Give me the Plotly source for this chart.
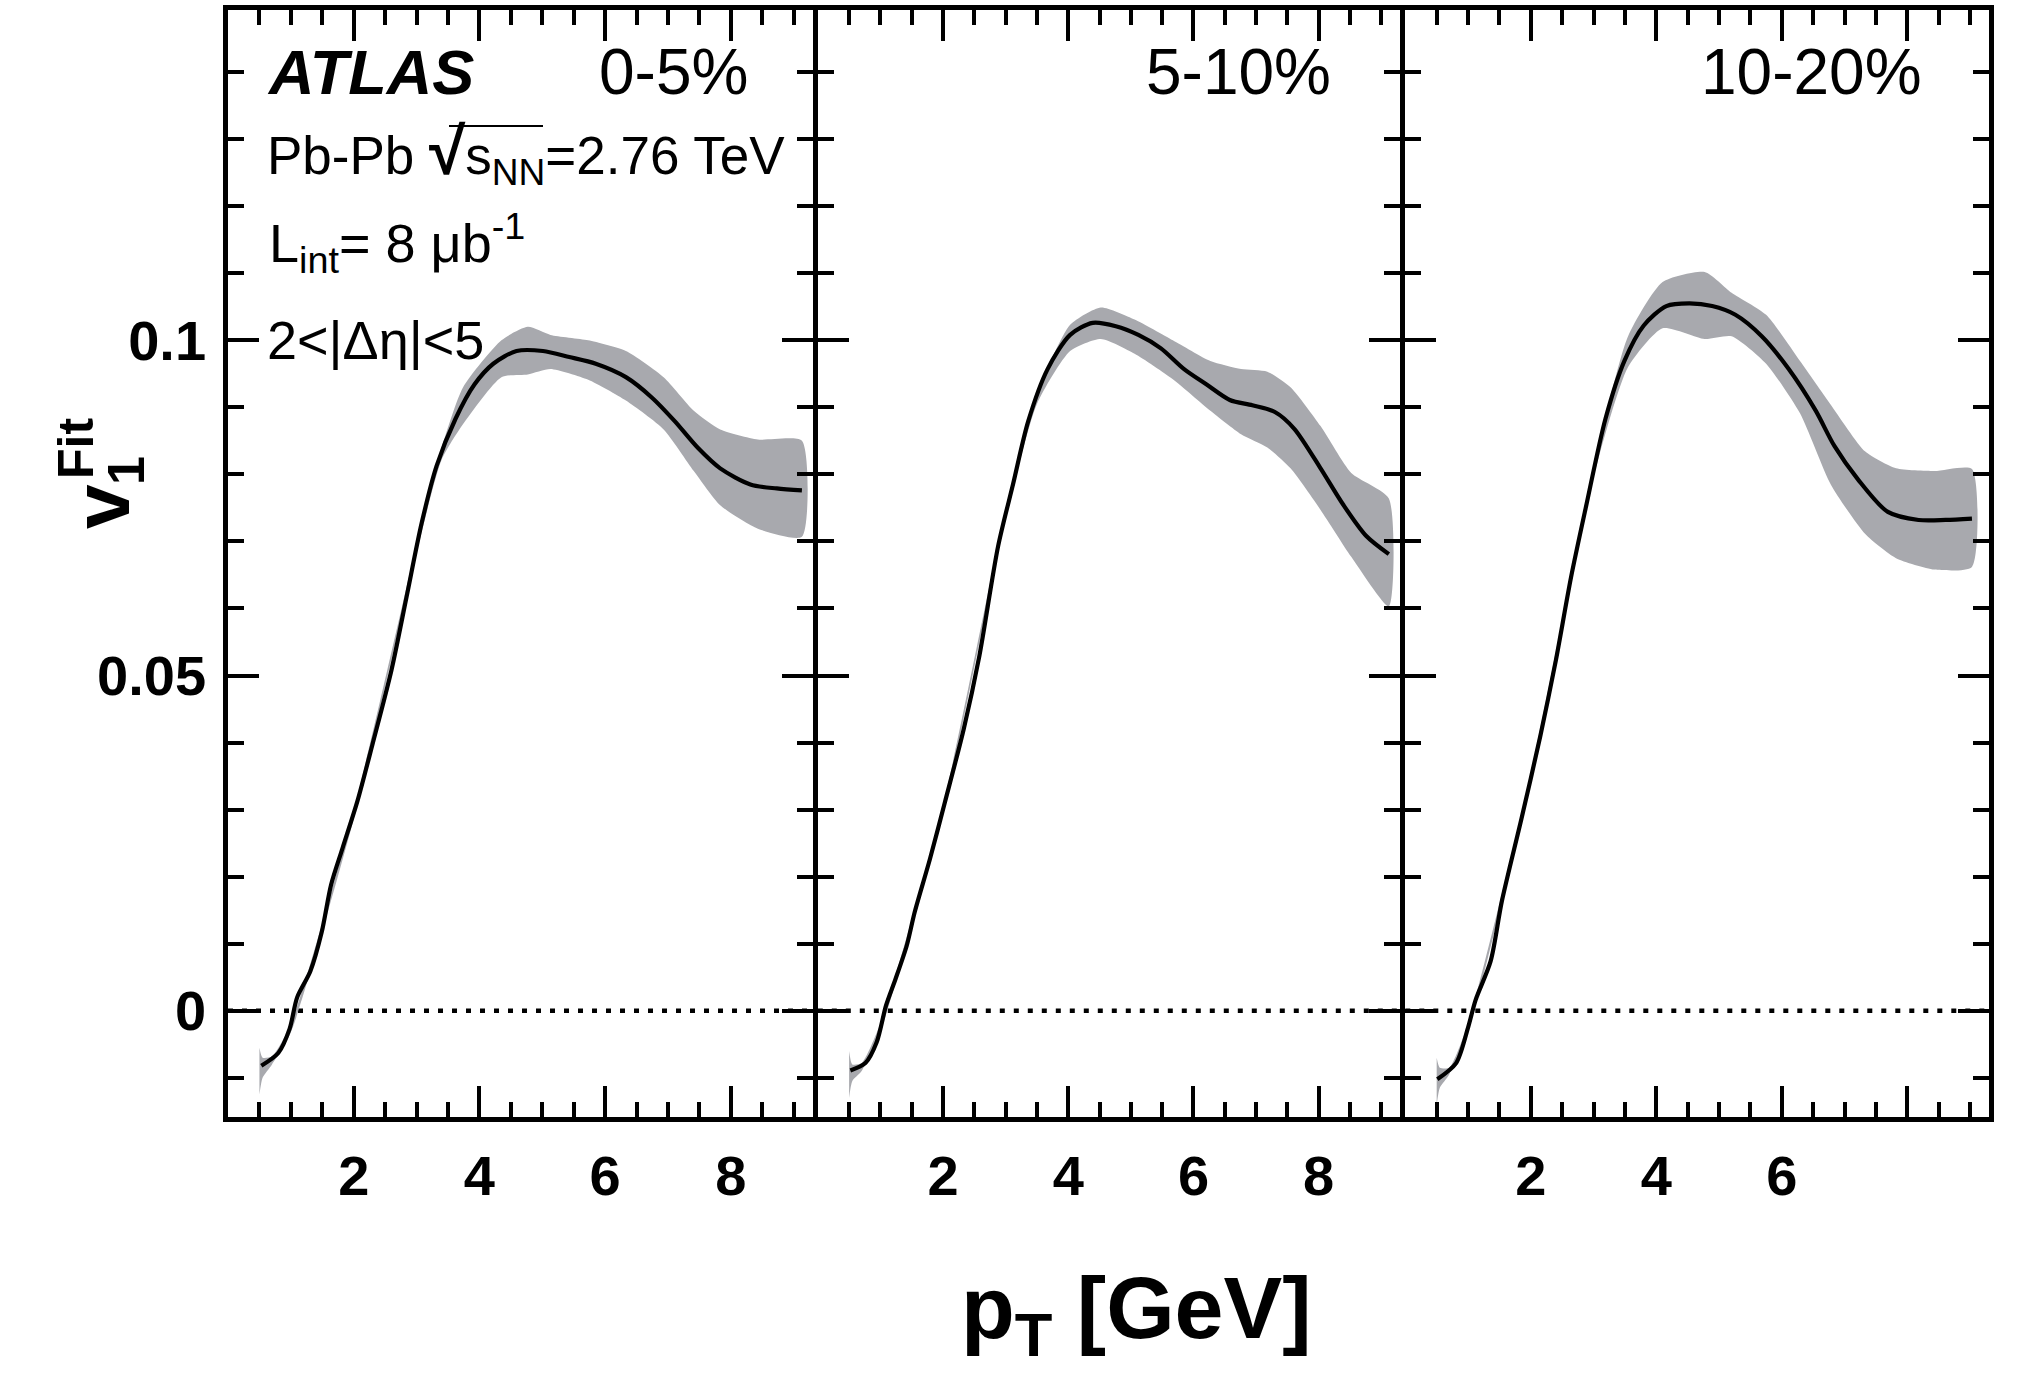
import plotly.graph_objects as go

# ---------------- data ----------------
# panel 1 : 0-5%
pt_c1 = [0.53, 0.80, 0.98, 1.10, 1.31, 1.49, 1.64, 1.82, 2.06, 2.30, 2.60, 2.84, 3.08, 3.32, 3.62, 3.92, 4.22,
         4.59, 5.01, 5.43, 5.85, 6.33, 6.75, 7.11, 7.47, 7.83, 8.31, 8.73, 9.13]
v1_c1 = [-0.0082, -0.0063, -0.0027, 0.0020, 0.0059, 0.0117, 0.0188, 0.0242, 0.0313, 0.0398, 0.0508, 0.0617,
         0.0727, 0.0813, 0.0883, 0.0934, 0.0965, 0.0984, 0.0984, 0.0975, 0.0965, 0.0945, 0.0914, 0.0879, 0.0840,
         0.0809, 0.0785, 0.0779, 0.0776]
band_x1 = [0.50, 0.55, 0.70, 1.00, 2.00, 3.00, 3.40, 3.74, 4.35, 4.77, 5.13, 5.73, 6.33, 6.93, 7.41, 7.83, 8.43, 9.13]
band_hi1 = [-0.0055, -0.0070, -0.0068, -0.0020, 0.0298, 0.0695, 0.0840, 0.0930, 0.1000, 0.1020, 0.1008, 0.1000,
            0.0984, 0.0945, 0.0895, 0.0867, 0.0852, 0.0850]
band_lo1 = [-0.0125, -0.0100, -0.0080, -0.0032, 0.0286, 0.0683, 0.0822, 0.0875, 0.0945, 0.0949, 0.0957, 0.0941,
            0.0910, 0.0867, 0.0805, 0.0754, 0.0719, 0.0707]

# panel 2 : 5-10%
pt_c2 = [0.52, 0.76, 0.94, 1.09, 1.24, 1.42, 1.55, 1.79, 2.03, 2.33, 2.58, 2.88, 3.12, 3.36, 3.67, 4.03, 4.39,
         4.76, 5.12, 5.48, 5.85, 6.21, 6.58, 6.94, 7.30, 7.61, 8.03, 8.39, 8.76, 9.12]
v1_c2 = [-0.0089, -0.0078, -0.0047, 0.0008, 0.0047, 0.0097, 0.0148, 0.0226, 0.0311, 0.0420, 0.0529, 0.0693,
         0.0786, 0.0879, 0.0957, 0.1008, 0.1026, 0.1021, 0.1008, 0.0988, 0.0957, 0.0934, 0.0911, 0.0903, 0.0893,
         0.0868, 0.0809, 0.0755, 0.0708, 0.0681]
band_x2 = [0.50, 0.55, 0.70, 1.00, 2.00, 3.00, 3.50, 4.03, 4.52, 5.06, 5.67, 6.27, 6.76, 7.18, 7.55, 8.03, 8.52, 9.12]
band_hi2 = [-0.0060, -0.0080, -0.0078, -0.0019, 0.0306, 0.0746, 0.0920, 0.1023, 0.1049, 0.1031, 0.1000, 0.0969,
            0.0957, 0.0953, 0.0930, 0.0872, 0.0802, 0.0764]
band_lo2 = [-0.0130, -0.0105, -0.0090, -0.0031, 0.0294, 0.0734, 0.0905, 0.0984, 0.1002, 0.0980, 0.0942, 0.0895,
            0.0860, 0.0840, 0.0809, 0.0747, 0.0677, 0.0603]

# panel 3 : 10-20%
pt_c3 = [0.51, 0.81, 1.00, 1.12, 1.36, 1.54, 1.85, 2.15, 2.40, 2.64, 2.88, 3.19, 3.49, 3.80, 4.16, 4.53, 4.89,
         5.26, 5.68, 6.11, 6.54, 6.84, 7.21, 7.69, 8.18, 8.61, 9.03]
v1_c3 = [-0.0102, -0.0078, -0.0025, 0.0016, 0.0074, 0.0164, 0.0286, 0.0409, 0.0523, 0.0646, 0.0752, 0.0883,
         0.0969, 0.1022, 0.1051, 0.1055, 0.1051, 0.1038, 0.1006, 0.0957, 0.0895, 0.0842, 0.0793, 0.0744, 0.0732,
         0.0732, 0.0734]
band_x3 = [0.50, 0.55, 0.70, 1.00, 2.00, 3.00, 3.55, 4.10, 4.77, 5.20, 5.75, 6.29, 6.78, 7.33, 7.82, 8.43, 9.03]
band_hi3 = [-0.0070, -0.0085, -0.0085, -0.0019, 0.0354, 0.0810, 0.1006, 0.1087, 0.1102, 0.1071, 0.1038, 0.0969,
            0.0904, 0.0834, 0.0809, 0.0805, 0.0808]
band_lo3 = [-0.0140, -0.0115, -0.0095, -0.0031, 0.0342, 0.0796, 0.0960, 0.1018, 0.1002, 0.1006, 0.0965, 0.0891,
            0.0785, 0.0711, 0.0675, 0.0658, 0.0662]

centrality_labels = ["0-5%", "5-10%", "10-20%"]
x_tickvals = [2, 4, 6, 8]
x_ticktext = [["2", "4", "6", "8"], ["2", "4", "6", "8"], ["2", "4", "6", ""]]
x_range = [0.0, 9.3]
y_range = [-0.0158, 0.1492]

# ---------------- layout helpers ----------------
W, H = 2029, 1377
def px(x):
    return x / W
def py(y):
    return 1 - y / H

FONT = "Liberation Sans, Arial, Helvetica, sans-serif"
GRAY = "rgb(168,169,174)"
x_domains = [[px(228), px(812.6)], [px(817.8), px(1400.1)], [px(1405.3), px(1988.9)]]
y_domain = [py(1116.7), py(10.4)]

panels = [
    (pt_c1, v1_c1, band_x1, band_hi1, band_lo1),
    (pt_c2, v1_c2, band_x2, band_hi2, band_lo2),
    (pt_c3, v1_c3, band_x3, band_hi3, band_lo3),
]

fig = go.Figure()
shapes = []
for i, (xc, yc, bx, bh, bl) in enumerate(panels):
    n = "" if i == 0 else str(i + 1)
    fig.add_trace(go.Scatter(
        x=bx + bx[::-1], y=bh + bl[::-1], fill="toself", fillcolor=GRAY,
        mode="lines", line=dict(width=0, shape="spline", smoothing=0.6),
        hoverinfo="skip", xaxis="x" + n, yaxis="y" + n))
    fig.add_trace(go.Scatter(
        x=xc, y=yc, mode="lines", line=dict(color="black", width=4.2, shape="spline", smoothing=0.8),
        xaxis="x" + n, yaxis="y" + n))
    shapes.append(dict(type="line", xref="x" + n + " domain", yref="y" + n, x0=0, x1=1, y0=0, y1=0,
                       line=dict(color="black", width=4.5, dash="5px,9px"), layer="below"))

axis_common = dict(showline=True, linecolor="black", linewidth=4.5, mirror="ticks",
                   ticks="inside", tickcolor="black", tickwidth=3.5, showgrid=False, zeroline=False)

layout = dict(width=W, height=H, margin=dict(l=0, r=0, t=0, b=0),
              paper_bgcolor="white", plot_bgcolor="rgba(0,0,0,0)", showlegend=False,
              font=dict(family=FONT, color="black"))
for i in range(3):
    n = "" if i == 0 else str(i + 1)
    layout["xaxis" + n] = dict(
        axis_common, domain=x_domains[i], range=x_range, anchor="y" + n,
        tickmode="array", tickvals=x_tickvals, ticktext=x_ticktext[i], ticklen=31,
        minor=dict(ticks="inside", dtick=0.5, tick0=0, ticklen=15, tickwidth=3.5, tickcolor="black", showgrid=False),
        tickfont=dict(family=FONT, size=56, weight=700, color="black"), ticklabelstandoff=6)
    layout["yaxis" + n] = dict(
        axis_common, domain=y_domain, range=y_range, anchor="x" + n,
        tickmode="linear", tick0=0, dtick=0.05, ticklen=31,
        minor=dict(ticks="inside", dtick=0.01, tick0=0, ticklen=16, tickwidth=3.5, tickcolor="black", showgrid=False),
        showticklabels=(i == 0),
        tickfont=dict(family=FONT, size=56, weight=700, color="black"), ticklabelstandoff=6)

annotations = []
def ann(text, x, y, size, xanchor="center", yanchor="middle", angle=0, **kw):
    annotations.append(dict(text=text, x=px(x), y=py(y), xref="paper", yref="paper",
                            xanchor=xanchor, yanchor=yanchor, showarrow=False, textangle=angle,
                            font=dict(family=FONT, size=size, color="black", **kw)))

# panel texts
ann("<b><i>ATLAS</i></b>", 265, 72, 63, xanchor="left")
ann(centrality_labels[0], 750, 72, 64, xanchor="right")
ann(centrality_labels[1], 1333, 72, 64, xanchor="right")
ann(centrality_labels[2], 1924, 72, 64, xanchor="right")
ann("Pb-Pb <span style='font-size:66px'><b>\u221a</b></span>s<sub>NN</sub>=2.76 TeV", 265, 153, 53, xanchor="left")
ann("L<sub>int</sub>= 8 \u03bcb<sup>-1</sup>", 267, 243, 54, xanchor="left")
ann("2<|\u0394\u03b7|<5", 265, 340, 54, xanchor="left")
# overline of the square root
shapes.append(dict(type="line", xref="paper", yref="paper", x0=px(449), x1=px(543), y0=py(126), y1=py(126),
                   line=dict(color="black", width=2)))

# axis titles
ann("<b>v</b>", 102, 507, 80, angle=-90)
ann("<b>1</b>", 126, 471, 52, angle=-90)
ann("<b>Fit</b>", 76, 449, 50, angle=-90)
ann("<b>p<sub>T</sub> [GeV]</b>", 1136, 1313, 88)

layout["shapes"] = shapes
layout["annotations"] = annotations
fig.update_layout(layout)
fig.write_html("out.html")
